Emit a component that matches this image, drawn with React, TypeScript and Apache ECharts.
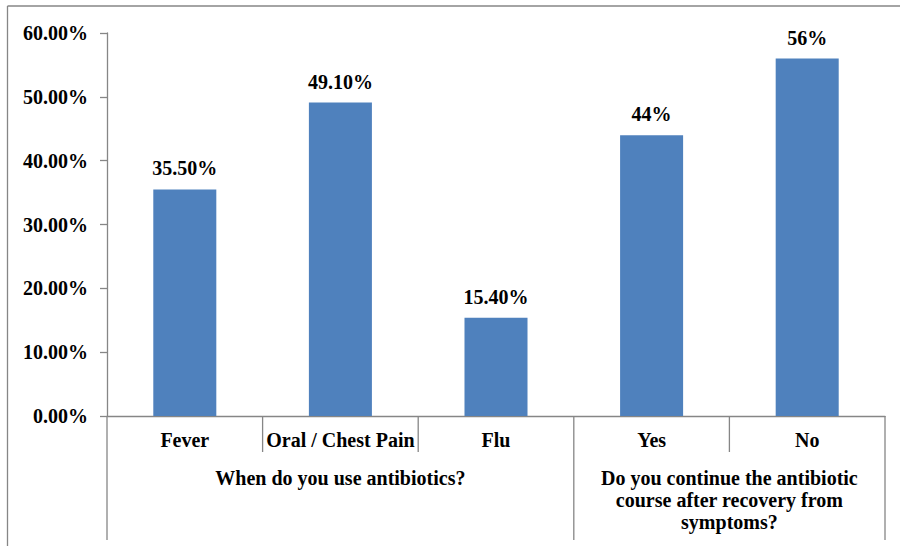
import React, { useEffect, useRef } from "react";
import * as echarts from "echarts";

const categories = ["Fever", "Oral / Chest Pain", "Flu", "Yes", "No"];
const values = [35.5, 49.1, 15.4, 44, 56];
const valueLabels = ["35.50%", "49.10%", "15.40%", "44%", "56%"];
const groupLabels = [
  "When do you use antibiotics?",
  "Do you continue the antibiotic\ncourse after recovery from\nsymptoms?",
];
const groupStarts = [0, 3];
const groupEnds = [2, 4];
const yMin = 0;
const yMax = 60;
const yInterval = 10;

const FONT = '"Liberation Serif", "Times New Roman", serif';
const AXIS_COLOR = "#868686";

export default function App() {
  const ref = useRef<HTMLDivElement>(null);
  useEffect(() => {
    document.body.style.margin = "0";
    if (!ref.current) return;
    const chart = echarts.init(ref.current, undefined, { renderer: "svg" });
    chart.setOption({
      animation: false,
      grid: { left: 107, top: 33, right: 15, bottom: 130, containLabel: false },
      xAxis: {
        type: "category",
        data: categories,
        axisLine: { show: true, lineStyle: { color: AXIS_COLOR, width: 1.3 } },
        axisTick: { show: false },
        axisLabel: {
          interval: 0,
          margin: 14,
          color: "#000",
          fontFamily: FONT,
          fontWeight: "bold",
          fontSize: 20,
        },
      },
      yAxis: {
        type: "value",
        min: yMin,
        max: yMax,
        interval: yInterval,
        splitLine: { show: false },
        axisLine: { show: true, lineStyle: { color: AXIS_COLOR, width: 1.3 } },
        axisTick: { show: true, length: 7, lineStyle: { color: AXIS_COLOR, width: 1.3 } },
        axisLabel: {
          margin: 19,
          color: "#000",
          fontFamily: FONT,
          fontWeight: "bold",
          fontSize: 20,
          formatter: (v: number) => v.toFixed(2) + "%",
        },
      },
      series: [
        {
          type: "bar",
          data: values,
          barWidth: "40.5%",
          itemStyle: { color: "#4F81BD" },
          label: {
            show: true,
            position: "top",
            distance: 11,
            color: "#000",
            fontFamily: FONT,
            fontWeight: "bold",
            fontSize: 20,
            formatter: (p: any) => valueLabels[p.dataIndex],
          },
        },
      ],
    });

    const cx = (i: number) => chart.convertToPixel({ xAxisIndex: 0 }, i) as number;
    const band = cx(1) - cx(0);
    const zeroY = chart.convertToPixel({ yAxisIndex: 0 }, 0) as number;
    const bottomY = 540;
    const minorY = zeroY + 36;
    const elements: any[] = [
      { type: "line", shape: { x1: 7.5, y1: 6, x2: 7.5, y2: 546 }, style: { stroke: AXIS_COLOR, lineWidth: 1.3 } },
      { type: "line", shape: { x1: 7.5, y1: 6, x2: 900, y2: 6 }, style: { stroke: AXIS_COLOR, lineWidth: 1.3 } },
    ];
    const groupBounds = new Set<number>();
    groupStarts.forEach((s, g) => {
      groupBounds.add(s);
      groupBounds.add(groupEnds[g] + 1);
    });
    for (let i = 0; i <= categories.length; i++) {
      const x = cx(0) - band / 2 + i * band;
      const isGroup = groupBounds.has(i);
      elements.push({
        type: "line",
        shape: { x1: x, y1: zeroY, x2: x, y2: isGroup ? bottomY : minorY },
        style: { stroke: AXIS_COLOR, lineWidth: 1.3 },
      });
    }
    groupLabels.forEach((t, g) => {
      const left = cx(groupStarts[g]) - band / 2;
      const right = cx(groupEnds[g]) + band / 2;
      elements.push({
        type: "text",
        style: {
          text: t,
          x: (left + right) / 2,
          y: zeroY + 51,
          align: "center",
          verticalAlign: "top",
          fontFamily: FONT,
          fontWeight: "bold",
          fontSize: 20,
          lineHeight: 22,
          fill: "#000",
        },
      });
    });
    chart.setOption({ graphic: { elements } });

    return () => chart.dispose();
  }, []);
  return <div ref={ref} style={{ width: 900, height: 546 }} />;
}
